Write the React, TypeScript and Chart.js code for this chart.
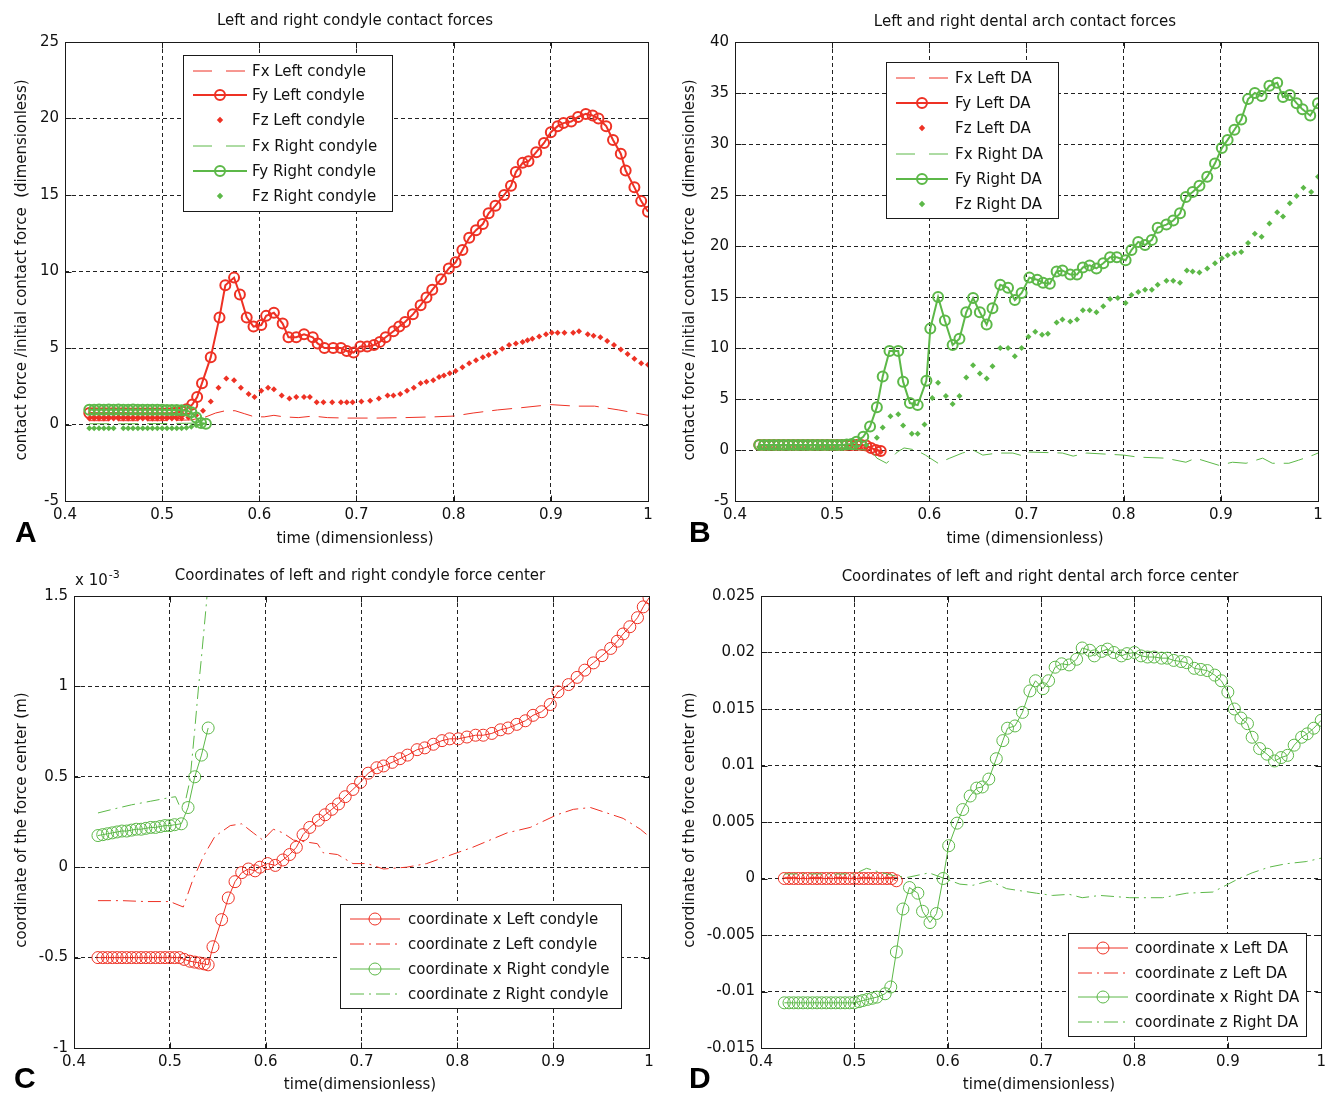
import React, { useEffect, useRef } from "react";
import { Chart, registerables } from "chart.js";
Chart.register(...registerables);

const RED = "#ee3124";
const GREEN = "#5cb848";
const FONT = '"DejaVu Sans"';
const FS = 15;

type P = [number, number];

// ---------- Panel A: condyle contact forces (time, value) ----------
const A_FxL: P[] = [[0.425,0.25],[0.45,0.25],[0.5,0.25],[0.53,0.3],[0.545,0.5],[0.555,0.75],[0.565,0.9],[0.575,0.9],[0.585,0.7],[0.595,0.5],[0.605,0.5],[0.615,0.6],[0.625,0.5],[0.64,0.45],[0.655,0.55],[0.67,0.45],[0.69,0.42],[0.72,0.42],[0.75,0.45],[0.78,0.5],[0.8,0.55],[0.82,0.75],[0.845,0.95],[0.87,1.1],[0.9,1.3],[0.925,1.2],[0.945,1.2],[0.97,0.95],[1.0,0.6]];
const A_FyL: P[] = [[0.425,0.75],[0.43,0.75],[0.435,0.74],[0.44,0.75],[0.445,0.74],[0.45,0.75],[0.455,0.74],[0.46,0.75],[0.465,0.74],[0.47,0.74],[0.475,0.73],[0.48,0.74],[0.485,0.73],[0.49,0.74],[0.495,0.73],[0.5,0.74],[0.505,0.73],[0.51,0.75],[0.515,0.78],[0.52,0.85],[0.525,1.0],[0.531,1.3],[0.536,1.8],[0.541,2.7],[0.55,4.4],[0.559,7.0],[0.565,9.1],[0.574,9.6],[0.58,8.5],[0.587,7.0],[0.594,6.4],[0.602,6.5],[0.607,7.1],[0.615,7.3],[0.624,6.6],[0.63,5.7],[0.638,5.7],[0.646,5.9],[0.655,5.7],[0.66,5.3],[0.667,5.0],[0.676,5.0],[0.684,5.0],[0.69,4.8],[0.697,4.7],[0.704,5.1],[0.711,5.1],[0.718,5.2],[0.724,5.4],[0.73,5.7],[0.738,6.1],[0.744,6.4],[0.75,6.7],[0.758,7.2],[0.766,7.8],[0.772,8.3],[0.778,8.8],[0.787,9.5],[0.795,10.2],[0.802,10.6],[0.809,11.4],[0.816,12.2],[0.823,12.7],[0.83,13.1],[0.836,13.8],[0.843,14.3],[0.852,15.0],[0.859,15.6],[0.864,16.5],[0.871,17.1],[0.877,17.2],[0.885,17.8],[0.893,18.4],[0.9,19.1],[0.907,19.5],[0.913,19.7],[0.921,19.8],[0.928,20.1],[0.936,20.3],[0.943,20.2],[0.949,20.0],[0.957,19.5],[0.964,18.6],[0.972,17.7],[0.977,16.6],[0.986,15.5],[0.993,14.6],[1.0,13.9]];
const A_FzL: P[] = [[0.425,0.4],[0.43,0.4],[0.435,0.4],[0.44,0.4],[0.445,0.4],[0.45,0.4],[0.455,0.4],[0.46,0.4],[0.465,0.4],[0.47,0.4],[0.475,0.4],[0.48,0.4],[0.485,0.4],[0.49,0.4],[0.495,0.4],[0.5,0.4],[0.505,0.4],[0.51,0.4],[0.515,0.4],[0.52,0.4],[0.527,0.45],[0.535,0.6],[0.542,0.9],[0.55,1.5],[0.558,2.4],[0.566,3.0],[0.574,2.9],[0.581,2.4],[0.589,2.0],[0.595,1.8],[0.602,2.2],[0.609,2.4],[0.615,2.3],[0.623,1.9],[0.631,1.7],[0.638,1.8],[0.646,1.8],[0.652,1.8],[0.659,1.45],[0.666,1.45],[0.675,1.45],[0.684,1.45],[0.69,1.45],[0.696,1.45],[0.705,1.5],[0.714,1.55],[0.723,1.7],[0.732,1.9],[0.738,1.9],[0.745,2.0],[0.752,2.2],[0.759,2.4],[0.766,2.7],[0.772,2.8],[0.779,2.9],[0.785,3.1],[0.79,3.2],[0.796,3.35],[0.802,3.5],[0.809,3.75],[0.816,4.0],[0.823,4.2],[0.83,4.4],[0.836,4.55],[0.843,4.7],[0.85,4.95],[0.857,5.2],[0.864,5.3],[0.871,5.4],[0.876,5.5],[0.881,5.6],[0.888,5.75],[0.895,5.9],[0.901,6.0],[0.907,6.0],[0.914,6.0],[0.923,6.0],[0.929,6.1],[0.938,5.9],[0.944,5.8],[0.951,5.7],[0.958,5.45],[0.965,5.2],[0.972,4.9],[0.979,4.6],[0.986,4.3],[0.993,4.0],[1.0,3.9]];
const A_FxR: P[] = [[0.425,0.05],[0.46,0.05],[0.5,0.06],[0.525,0.08],[0.54,0.1]];
const A_FyR: P[] = [[0.425,0.97],[0.43,0.97],[0.435,0.98],[0.44,0.97],[0.445,0.98],[0.45,0.97],[0.455,0.98],[0.46,0.97],[0.465,0.97],[0.47,0.98],[0.475,0.97],[0.48,0.97],[0.485,0.96],[0.49,0.97],[0.495,0.96],[0.5,0.96],[0.505,0.95],[0.51,0.95],[0.515,0.94],[0.52,0.93],[0.525,0.92],[0.53,0.8],[0.535,0.45],[0.54,0.1],[0.545,0.05]];
const A_FzR: P[] = [[0.425,-0.25],[0.43,-0.25],[0.435,-0.25],[0.44,-0.25],[0.445,-0.25],[0.45,-0.25],[0.46,-0.25],[0.465,-0.25],[0.47,-0.25],[0.475,-0.25],[0.48,-0.25],[0.485,-0.25],[0.49,-0.25],[0.495,-0.25],[0.5,-0.25],[0.505,-0.25],[0.51,-0.25],[0.515,-0.25],[0.52,-0.24],[0.525,-0.22],[0.53,-0.15],[0.535,-0.05],[0.54,0.0]];

// ---------- Panel B: dental arch contact forces ----------
const B_FxL: P[] = [[0.425,0.3],[0.47,0.3],[0.5,0.3],[0.53,0.3],[0.55,0.25]];
const B_FyL: P[] = [[0.425,0.5],[0.43,0.5],[0.435,0.5],[0.44,0.5],[0.445,0.5],[0.45,0.5],[0.455,0.5],[0.46,0.5],[0.465,0.5],[0.47,0.5],[0.475,0.5],[0.48,0.5],[0.485,0.5],[0.49,0.5],[0.495,0.5],[0.5,0.5],[0.505,0.5],[0.51,0.5],[0.515,0.5],[0.52,0.5],[0.525,0.5],[0.53,0.5],[0.535,0.45],[0.54,0.2],[0.545,0.0],[0.55,-0.1]];
const B_FzL: P[] = [[0.425,0.3],[0.435,0.3],[0.445,0.3],[0.455,0.3],[0.465,0.3],[0.475,0.3],[0.485,0.3],[0.495,0.3],[0.505,0.3],[0.515,0.3],[0.525,0.3],[0.535,0.25],[0.545,0.0],[0.55,-0.2]];
const B_FxR: P[] = [[0.425,0.1],[0.5,0.1],[0.54,0.0],[0.546,-0.8],[0.556,-1.3],[0.567,-0.2],[0.574,0.2],[0.586,0.0],[0.596,-0.5],[0.609,-1.3],[0.621,-0.8],[0.634,-0.3],[0.645,0.0],[0.655,-0.5],[0.67,-0.3],[0.686,-0.3],[0.697,-0.6],[0.703,-0.2],[0.737,-0.3],[0.748,-0.6],[0.762,-0.3],[0.8,-0.5],[0.815,-0.7],[0.843,-0.8],[0.864,-1.2],[0.874,-0.8],[0.898,-1.5],[0.912,-1.2],[0.926,-1.3],[0.943,-0.8],[0.953,-1.3],[0.97,-1.3],[0.98,-1.0],[0.995,-0.5],[1.0,-0.3]];
const B_FyR: P[] = [[0.425,0.5],[0.43,0.5],[0.435,0.5],[0.44,0.5],[0.445,0.5],[0.45,0.5],[0.455,0.5],[0.46,0.5],[0.465,0.5],[0.47,0.5],[0.475,0.5],[0.48,0.5],[0.485,0.5],[0.49,0.5],[0.495,0.5],[0.5,0.5],[0.505,0.5],[0.51,0.5],[0.515,0.55],[0.52,0.6],[0.525,0.8],[0.532,1.3],[0.539,2.3],[0.546,4.2],[0.552,7.2],[0.559,9.7],[0.568,9.7],[0.573,6.7],[0.58,4.6],[0.588,4.4],[0.597,6.8],[0.601,11.9],[0.609,15.0],[0.616,12.7],[0.624,10.3],[0.631,10.9],[0.638,13.5],[0.645,14.9],[0.652,13.5],[0.659,12.3],[0.665,13.9],[0.673,16.2],[0.681,15.9],[0.688,14.7],[0.695,15.4],[0.703,16.9],[0.711,16.7],[0.717,16.4],[0.724,16.3],[0.731,17.5],[0.737,17.6],[0.745,17.2],[0.752,17.2],[0.758,17.9],[0.765,18.1],[0.772,17.8],[0.779,18.3],[0.786,18.9],[0.793,18.9],[0.802,18.6],[0.808,19.6],[0.815,20.4],[0.822,20.1],[0.829,20.6],[0.835,21.8],[0.844,22.1],[0.851,22.5],[0.858,23.2],[0.864,24.8],[0.871,25.3],[0.878,25.9],[0.886,26.8],[0.894,28.1],[0.901,29.6],[0.907,30.4],[0.914,31.4],[0.921,32.4],[0.928,34.4],[0.935,35.0],[0.942,34.7],[0.95,35.7],[0.958,36.0],[0.964,34.6],[0.971,34.8],[0.978,34.0],[0.984,33.4],[0.992,32.8],[1.0,34.0]];
const B_FzR: P[] = [[0.425,0.3],[0.435,0.3],[0.445,0.3],[0.455,0.3],[0.465,0.3],[0.475,0.3],[0.485,0.3],[0.495,0.3],[0.505,0.3],[0.515,0.3],[0.525,0.35],[0.535,0.5],[0.546,1.2],[0.552,2.2],[0.56,3.3],[0.568,3.5],[0.573,2.4],[0.582,1.6],[0.588,1.6],[0.595,2.5],[0.603,5.1],[0.609,6.6],[0.617,5.3],[0.624,4.5],[0.631,5.3],[0.638,7.1],[0.645,8.3],[0.652,7.5],[0.659,7.0],[0.665,8.2],[0.673,10.0],[0.681,10.0],[0.688,9.2],[0.695,10.0],[0.702,11.1],[0.709,11.6],[0.716,11.3],[0.722,11.4],[0.731,12.5],[0.737,12.8],[0.745,12.6],[0.752,12.8],[0.758,13.7],[0.765,13.7],[0.772,13.5],[0.779,14.1],[0.786,14.8],[0.794,14.9],[0.802,14.4],[0.808,15.2],[0.815,15.5],[0.822,15.7],[0.829,15.7],[0.835,16.2],[0.844,16.6],[0.851,16.6],[0.858,16.4],[0.865,17.6],[0.871,17.5],[0.878,17.4],[0.886,17.8],[0.894,18.3],[0.901,18.8],[0.907,19.1],[0.914,19.3],[0.921,19.4],[0.928,20.3],[0.935,21.2],[0.942,20.9],[0.95,22.2],[0.958,23.3],[0.964,22.9],[0.971,24.2],[0.978,24.9],[0.985,25.7],[0.993,25.3],[1.0,26.8]];

// ---------- Panel C: condyle force center (x 10^-3 m) ----------
const C_xL: P[] = [[0.425,-0.5],[0.43,-0.5],[0.435,-0.5],[0.44,-0.5],[0.445,-0.5],[0.45,-0.5],[0.455,-0.5],[0.46,-0.5],[0.465,-0.5],[0.47,-0.5],[0.475,-0.5],[0.48,-0.5],[0.485,-0.5],[0.49,-0.5],[0.495,-0.5],[0.5,-0.5],[0.505,-0.5],[0.51,-0.5],[0.515,-0.51],[0.521,-0.52],[0.526,-0.525],[0.531,-0.53],[0.536,-0.535],[0.54,-0.54],[0.545,-0.44],[0.554,-0.29],[0.561,-0.17],[0.568,-0.08],[0.575,-0.03],[0.582,-0.01],[0.589,-0.02],[0.594,0.0],[0.602,0.02],[0.61,0.01],[0.618,0.04],[0.625,0.07],[0.632,0.11],[0.639,0.18],[0.646,0.22],[0.655,0.26],[0.662,0.29],[0.669,0.32],[0.676,0.35],[0.683,0.39],[0.691,0.43],[0.699,0.47],[0.707,0.52],[0.716,0.55],[0.723,0.56],[0.732,0.58],[0.74,0.6],[0.748,0.62],[0.758,0.65],[0.766,0.66],[0.775,0.68],[0.784,0.7],[0.792,0.71],[0.801,0.71],[0.81,0.72],[0.819,0.73],[0.827,0.73],[0.836,0.74],[0.845,0.76],[0.853,0.77],[0.862,0.79],[0.871,0.81],[0.879,0.84],[0.888,0.86],[0.897,0.9],[0.905,0.97],[0.916,1.01],[0.925,1.05],[0.933,1.09],[0.942,1.13],[0.951,1.17],[0.96,1.21],[0.967,1.25],[0.973,1.29],[0.98,1.33],[0.988,1.38],[0.994,1.44],[1.0,1.49]];
const C_zL: P[] = [[0.425,-0.185],[0.45,-0.185],[0.475,-0.19],[0.5,-0.19],[0.514,-0.22],[0.524,-0.07],[0.535,0.06],[0.547,0.17],[0.563,0.23],[0.575,0.24],[0.587,0.19],[0.597,0.15],[0.608,0.21],[0.618,0.19],[0.629,0.15],[0.654,0.13],[0.66,0.08],[0.675,0.07],[0.691,0.02],[0.706,0.02],[0.723,-0.01],[0.747,0.0],[0.768,0.02],[0.789,0.06],[0.816,0.11],[0.852,0.19],[0.876,0.22],[0.904,0.29],[0.921,0.32],[0.939,0.33],[0.956,0.3],[0.973,0.27],[0.991,0.21],[1.0,0.17]];
const C_xR: P[] = [[0.425,0.175],[0.43,0.18],[0.435,0.185],[0.44,0.19],[0.445,0.195],[0.45,0.2],[0.455,0.2],[0.46,0.205],[0.465,0.21],[0.47,0.21],[0.475,0.215],[0.48,0.22],[0.485,0.22],[0.49,0.225],[0.495,0.23],[0.5,0.23],[0.505,0.235],[0.512,0.24],[0.519,0.33],[0.526,0.5],[0.533,0.62],[0.54,0.77]];
const C_zR: P[] = [[0.425,0.3],[0.44,0.32],[0.46,0.345],[0.48,0.365],[0.5,0.385],[0.506,0.39],[0.51,0.34],[0.516,0.36],[0.521,0.48],[0.526,0.76],[0.53,1.0],[0.533,1.16],[0.538,1.45],[0.542,1.7]];

// ---------- Panel D: dental arch force center (m) ----------
const D_xL: P[] = [[0.425,0],[0.43,0],[0.435,0],[0.44,0],[0.445,0],[0.45,0],[0.455,0],[0.46,0],[0.465,0],[0.47,0],[0.475,0],[0.48,0],[0.485,0],[0.49,0],[0.495,0],[0.5,0],[0.505,0],[0.51,0],[0.515,0],[0.52,0],[0.525,0],[0.53,0],[0.535,0],[0.54,0],[0.545,-0.0002]];
const D_zL: P[] = [[0.425,0.0001],[0.47,0.0001],[0.5,0.0001],[0.53,0.0001],[0.55,0.0001]];
const D_xR: P[] = [[0.425,-0.011],[0.43,-0.011],[0.435,-0.011],[0.44,-0.011],[0.445,-0.011],[0.45,-0.011],[0.455,-0.011],[0.46,-0.011],[0.465,-0.011],[0.47,-0.011],[0.475,-0.011],[0.48,-0.011],[0.485,-0.011],[0.49,-0.011],[0.495,-0.011],[0.5,-0.011],[0.505,-0.0109],[0.509,-0.0108],[0.514,-0.0107],[0.519,-0.0106],[0.524,-0.0105],[0.533,-0.0102],[0.539,-0.0096],[0.545,-0.0065],[0.552,-0.0027],[0.559,-0.0008],[0.568,-0.0013],[0.573,-0.0029],[0.581,-0.0039],[0.588,-0.0031],[0.595,0.0],[0.601,0.0029],[0.61,0.0049],[0.616,0.0061],[0.624,0.0073],[0.631,0.008],[0.637,0.0081],[0.644,0.0088],[0.652,0.0106],[0.659,0.0122],[0.664,0.0133],[0.672,0.0135],[0.68,0.0147],[0.688,0.0166],[0.694,0.0175],[0.702,0.0168],[0.708,0.0175],[0.715,0.0187],[0.722,0.019],[0.73,0.0189],[0.738,0.0194],[0.744,0.0204],[0.752,0.0202],[0.757,0.0197],[0.765,0.0201],[0.771,0.0203],[0.778,0.02],[0.786,0.0197],[0.792,0.0199],[0.8,0.02],[0.807,0.0197],[0.814,0.0196],[0.821,0.0196],[0.829,0.0195],[0.835,0.0195],[0.842,0.0193],[0.85,0.0192],[0.856,0.0191],[0.864,0.0186],[0.871,0.0185],[0.878,0.0184],[0.886,0.018],[0.893,0.0175],[0.9,0.0165],[0.907,0.015],[0.914,0.0142],[0.921,0.0137],[0.926,0.0125],[0.934,0.0115],[0.942,0.011],[0.95,0.0104],[0.957,0.0107],[0.964,0.0109],[0.971,0.0118],[0.979,0.0125],[0.985,0.0128],[0.992,0.0133],[1.0,0.014]];
const D_zR: P[] = [[0.425,0.0004],[0.45,0.0004],[0.48,0.0004],[0.5,0.0004],[0.513,0.0009],[0.53,0.0005],[0.545,0.0002],[0.557,0.0001],[0.58,0.0005],[0.613,-0.0005],[0.627,-0.0006],[0.645,-0.0002],[0.663,-0.0009],[0.695,-0.0013],[0.712,-0.0015],[0.73,-0.0014],[0.744,-0.0017],[0.763,-0.0015],[0.795,-0.0017],[0.83,-0.0017],[0.856,-0.0013],[0.884,-0.0012],[0.898,-0.0006],[0.912,0.0],[0.926,0.0005],[0.944,0.001],[0.962,0.0013],[0.984,0.0015],[1.0,0.0018]];

const X_TICK_STEP = 0.1;

type Kind = "circleLine" | "dash" | "dots" | "dashdot";
type Series = { label: string; color: string; kind: Kind; pts: P[]; lw: number; r: number };

type PanelCfg = {
  left: number; top: number; width: number; height: number;
  area: { l: number; t: number; r: number; b: number };
  yMin: number; yMax: number; yStep: number;
  series: Series[];
  legend: { x: number; y: number; w: number; h: number; rows: number[]; lx1: number; lx2: number; tx: number };
  title: { text: string; x: number; y: number };
  xlabel: { text: string; x: number; y: number };
  ylabel: { text: string; x: number; y: number };
  letter: { text: string; x: number; y: number };
  exponent?: { x: number; y: number };
};

const fmt = (v: number) => String(+Number(v).toFixed(4));

const DASH = [20, 9];
const DASHDOT = [13, 5, 2, 5];

function drawLegendSample(ctx: CanvasRenderingContext2D, s: Series, x1: number, x2: number, y: number) {
  ctx.strokeStyle = s.color;
  ctx.fillStyle = s.color;
  const xm = (x1 + x2) / 2;
  if (s.kind === "dots") {
    ctx.beginPath();
    ctx.moveTo(xm, y - 3.2); ctx.lineTo(xm + 3.2, y); ctx.lineTo(xm, y + 3.2); ctx.lineTo(xm - 3.2, y);
    ctx.closePath(); ctx.fill();
    return;
  }
  ctx.lineWidth = s.lw;
  ctx.setLineDash(s.kind === "dash" ? [19, 14] : s.kind === "dashdot" ? [14, 5, 2, 5] : []);
  ctx.beginPath(); ctx.moveTo(x1, y); ctx.lineTo(x2, y); ctx.stroke();
  ctx.setLineDash([]);
  if (s.kind === "circleLine") {
    ctx.beginPath(); ctx.arc(xm, y, s.r, 0, Math.PI * 2); ctx.stroke();
  }
}

function Panel({ cfg }: { cfg: PanelCfg }) {
  const ref = useRef<HTMLCanvasElement | null>(null);
  useEffect(() => {
    if (!ref.current) return;
    const n = cfg.series.length;
    const decor = {
      id: "decor",
      afterDraw(chart: any) {
        const ctx: CanvasRenderingContext2D = chart.ctx;
        const a = chart.chartArea;
        ctx.save();
        ctx.setLineDash([]);
        ctx.strokeStyle = "#1a1a1a";
        ctx.lineWidth = 1;
        const L = Math.round(a.left) + 0.5, T = Math.round(a.top) + 0.5;
        const R = Math.round(a.right) + 0.5, B = Math.round(a.bottom) + 0.5;
        ctx.strokeRect(L, T, R - L, B - T);
        const xs = chart.scales.x, ys = chart.scales.y;
        ctx.beginPath();
        xs.ticks.forEach((t: any) => {
          const p = Math.round(xs.getPixelForValue(t.value)) + 0.5;
          ctx.moveTo(p, B); ctx.lineTo(p, B - 6);
          ctx.moveTo(p, T); ctx.lineTo(p, T + 6);
        });
        ys.ticks.forEach((t: any) => {
          const p = Math.round(ys.getPixelForValue(t.value)) + 0.5;
          ctx.moveTo(L, p); ctx.lineTo(L + 6, p);
          ctx.moveTo(R, p); ctx.lineTo(R - 6, p);
        });
        ctx.stroke();

        // legend
        const lg = cfg.legend;
        ctx.fillStyle = "#fff";
        ctx.fillRect(lg.x, lg.y, lg.w, lg.h);
        ctx.strokeStyle = "#1a1a1a";
        ctx.lineWidth = 1;
        ctx.strokeRect(lg.x + 0.5, lg.y + 0.5, lg.w, lg.h);
        cfg.series.forEach((s, i) => {
          const y = lg.rows[i];
          drawLegendSample(ctx, s, lg.lx1, lg.lx2, y);
          ctx.fillStyle = "#111";
          ctx.font = `${FS}px ${FONT}`;
          ctx.textAlign = "left";
          ctx.textBaseline = "middle";
          ctx.fillText(s.label, lg.tx, y + 1);
        });

        // texts
        ctx.fillStyle = "#111";
        ctx.font = `${FS}px ${FONT}`;
        ctx.textAlign = "center";
        ctx.textBaseline = "middle";
        ctx.fillText(cfg.title.text, cfg.title.x, cfg.title.y);
        ctx.fillText(cfg.xlabel.text, cfg.xlabel.x, cfg.xlabel.y);
        ctx.save();
        ctx.translate(cfg.ylabel.x, cfg.ylabel.y);
        ctx.rotate(-Math.PI / 2);
        ctx.fillText(cfg.ylabel.text, 0, 0);
        ctx.restore();
        if (cfg.exponent) {
          ctx.textAlign = "left";
          ctx.fillText("x 10", cfg.exponent.x, cfg.exponent.y);
          const w = ctx.measureText("x 10").width;
          ctx.font = `11px ${FONT}`;
          ctx.fillText("-3", cfg.exponent.x + w + 1, cfg.exponent.y - 6);
        }
        ctx.font = `bold 30px "Liberation Sans"`;
        ctx.textAlign = "left";
        ctx.textBaseline = "alphabetic";
        ctx.fillStyle = "#000";
        ctx.fillText(cfg.letter.text, cfg.letter.x, cfg.letter.y);
        ctx.restore();
      },
    };
    const chart = new Chart(ref.current, {
      type: "line",
      data: {
        datasets: cfg.series.map((s, i) => ({
          label: s.label,
          data: s.pts.map(([x, y]) => ({ x, y })),
          borderColor: s.color,
          backgroundColor: s.color,
          borderWidth: s.kind === "dots" ? 0 : s.lw,
          showLine: s.kind !== "dots",
          borderDash: s.kind === "dash" ? DASH : s.kind === "dashdot" ? DASHDOT : [],
          pointRadius: s.kind === "circleLine" ? s.r : s.kind === "dots" ? 3 : 0,
          pointStyle: s.kind === "dots" ? "rectRot" : "circle",
          pointBackgroundColor: s.kind === "dots" ? s.color : "rgba(0,0,0,0)",
          pointBorderColor: s.color,
          pointBorderWidth: s.kind === "dots" ? 0 : s.lw,
          pointHoverRadius: 0,
          tension: 0,
          order: n - i,
        })) as any,
      },
      options: {
        responsive: false,
        animation: false,
        devicePixelRatio: 1,
        events: [],
        layout: {
          padding: {
            left: cfg.area.l - 60,
            top: cfg.area.t,
            right: cfg.width - cfg.area.r,
            bottom: cfg.height - cfg.area.b - 30,
          },
        },
        plugins: { legend: { display: false }, tooltip: { enabled: false }, title: { display: false } },
        scales: {
          x: {
            type: "linear",
            min: 0.4,
            max: 1,
            ticks: {
              stepSize: X_TICK_STEP,
              callback: (v: any) => fmt(v),
              color: "#111",
              font: { family: "DejaVu Sans", size: FS },
              padding: 5,
              maxRotation: 0,
              autoSkip: false,
            },
            grid: { color: "#222", drawTicks: false, lineWidth: 1 },
            border: { display: false, dash: [4, 3] },
            afterFit: (s: any) => { s.height = 30; },
          },
          y: {
            type: "linear",
            min: cfg.yMin,
            max: cfg.yMax,
            ticks: {
              stepSize: cfg.yStep,
              callback: (v: any) => fmt(v),
              color: "#111",
              font: { family: "DejaVu Sans", size: FS },
              padding: 6,
              autoSkip: false,
            },
            grid: { color: "#222", drawTicks: false, lineWidth: 1 },
            border: { display: false, dash: [4, 3] },
            afterFit: (s: any) => { s.width = 60; },
          },
        },
      },
      plugins: [decor],
    });
    return () => chart.destroy();
  }, [cfg]);
  return (
    <canvas
      ref={ref}
      width={cfg.width}
      height={cfg.height}
      style={{ position: "absolute", left: cfg.left, top: cfg.top, width: cfg.width, height: cfg.height }}
    />
  );
}

const panels: PanelCfg[] = [
  {
    left: 0, top: 0, width: 665, height: 548,
    area: { l: 65, t: 42, r: 648, b: 501 },
    yMin: -5, yMax: 25, yStep: 5,
    series: [
      { label: "Fx Left condyle", color: RED, kind: "dash", pts: A_FxL, lw: 1, r: 0 },
      { label: "Fy Left condyle", color: RED, kind: "circleLine", pts: A_FyL, lw: 2, r: 5 },
      { label: "Fz Left condyle", color: RED, kind: "dots", pts: A_FzL, lw: 1, r: 0 },
      { label: "Fx Right condyle", color: GREEN, kind: "dash", pts: A_FxR, lw: 1, r: 0 },
      { label: "Fy Right condyle", color: GREEN, kind: "circleLine", pts: A_FyR, lw: 2, r: 5 },
      { label: "Fz Right condyle", color: GREEN, kind: "dots", pts: A_FzR, lw: 1, r: 0 },
    ],
    legend: { x: 183, y: 55, w: 209, h: 156, rows: [71, 95, 120, 146, 171, 196], lx1: 193, lx2: 247, tx: 252 },
    title: { text: "Left and right condyle contact forces", x: 355, y: 21 },
    xlabel: { text: "time (dimensionless)", x: 355, y: 539 },
    ylabel: { text: "contact force /initial contact force  (dimensionless)", x: 22, y: 270 },
    letter: { text: "A", x: 15, y: 542 },
  },
  {
    left: 665, top: 0, width: 666, height: 548,
    area: { l: 70, t: 42, r: 653, b: 501 },
    yMin: -5, yMax: 40, yStep: 5,
    series: [
      { label: "Fx Left DA", color: RED, kind: "dash", pts: B_FxL, lw: 1, r: 0 },
      { label: "Fy Left DA", color: RED, kind: "circleLine", pts: B_FyL, lw: 2, r: 5 },
      { label: "Fz Left DA", color: RED, kind: "dots", pts: B_FzL, lw: 1, r: 0 },
      { label: "Fx Right DA", color: GREEN, kind: "dash", pts: B_FxR, lw: 1, r: 0 },
      { label: "Fy Right DA", color: GREEN, kind: "circleLine", pts: B_FyR, lw: 2, r: 5 },
      { label: "Fz Right DA", color: GREEN, kind: "dots", pts: B_FzR, lw: 1, r: 0 },
    ],
    legend: { x: 221, y: 62, w: 172, h: 156, rows: [78, 103, 128, 154, 179, 204], lx1: 231, lx2: 283, tx: 290 },
    title: { text: "Left and right dental arch contact forces", x: 360, y: 22 },
    xlabel: { text: "time (dimensionless)", x: 360, y: 539 },
    ylabel: { text: "contact force /initial contact force  (dimensionless)", x: 25, y: 270 },
    letter: { text: "B", x: 24, y: 542 },
  },
  {
    left: 0, top: 548, width: 665, height: 545,
    area: { l: 74, t: 48, r: 649, b: 500 },
    yMin: -1, yMax: 1.5, yStep: 0.5,
    series: [
      { label: "coordinate x Left condyle", color: RED, kind: "circleLine", pts: C_xL, lw: 1, r: 6 },
      { label: "coordinate z Left condyle", color: RED, kind: "dashdot", pts: C_zL, lw: 1, r: 0 },
      { label: "coordinate x Right condyle", color: GREEN, kind: "circleLine", pts: C_xR, lw: 1, r: 6 },
      { label: "coordinate z Right condyle", color: GREEN, kind: "dashdot", pts: C_zR, lw: 1, r: 0 },
    ],
    legend: { x: 340, y: 356, w: 281, h: 104, rows: [371, 396, 421, 446], lx1: 350, lx2: 400, tx: 408 },
    title: { text: "Coordinates of left and right condyle force center", x: 360, y: 28 },
    xlabel: { text: "time(dimensionless)", x: 360, y: 537 },
    ylabel: { text: "coordinate of the force center (m)", x: 22, y: 272 },
    letter: { text: "C", x: 14, y: 540 },
    exponent: { x: 75, y: 33 },
  },
  {
    left: 665, top: 548, width: 666, height: 545,
    area: { l: 96, t: 48, r: 657, b: 500 },
    yMin: -0.015, yMax: 0.025, yStep: 0.005,
    series: [
      { label: "coordinate x Left DA", color: RED, kind: "circleLine", pts: D_xL, lw: 1, r: 6 },
      { label: "coordinate z Left DA", color: RED, kind: "dashdot", pts: D_zL, lw: 1, r: 0 },
      { label: "coordinate x Right DA", color: GREEN, kind: "circleLine", pts: D_xR, lw: 1, r: 6 },
      { label: "coordinate z Right DA", color: GREEN, kind: "dashdot", pts: D_zR, lw: 1, r: 0 },
    ],
    legend: { x: 403, y: 385, w: 238, h: 103, rows: [400, 425, 449, 474], lx1: 413, lx2: 463, tx: 470 },
    title: { text: "Coordinates of left and right dental arch force center", x: 375, y: 29 },
    xlabel: { text: "time(dimensionless)", x: 374, y: 537 },
    ylabel: { text: "coordinate of the force center (m)", x: 25, y: 272 },
    letter: { text: "D", x: 24, y: 540 },
  },
];

export default function App() {
  return (
    <div style={{ position: "absolute", left: 0, top: 0, width: 1331, height: 1093, background: "#fff", overflow: "hidden" }}>
      {panels.map((p, i) => (
        <Panel key={i} cfg={p} />
      ))}
    </div>
  );
}
